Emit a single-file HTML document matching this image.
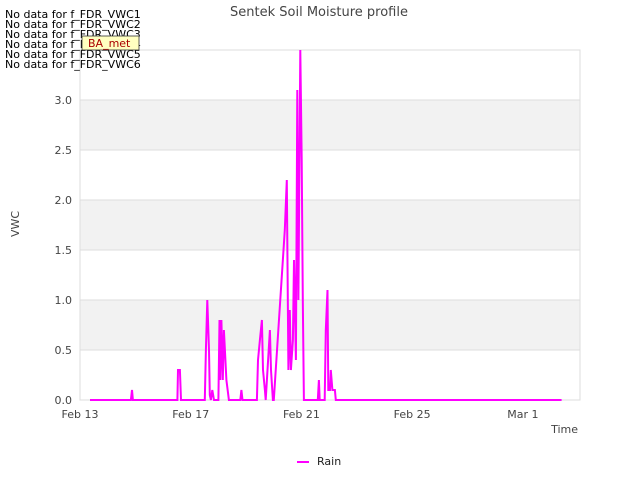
<!DOCTYPE html>
<html><head><meta charset="utf-8"><style>
body{margin:0;background:#fff;font-family:"Liberation Sans","DejaVu Sans",sans-serif}
svg text{font-family:"DejaVu Sans","Liberation Sans",sans-serif}
</style></head><body>
<svg id="c" width="640" height="480" xmlns="http://www.w3.org/2000/svg">
<text x="319" y="16" text-anchor="middle" font-size="13" fill="#444">Sentek Soil Moisture profile</text>
<g id="bands"></g>
<g id="grid"></g>
<rect x="80" y="50" width="500" height="350" fill="none" stroke="#ddd"/>
<g id="yt"></g><g id="xt"></g>
<text transform="translate(19,224) rotate(-90)" text-anchor="middle" font-size="11" fill="#444">VWC</text>
<text x="578" y="433" text-anchor="end" font-size="11" fill="#444">Time</text>
<path id="rain" fill="none" stroke="#ff00ff" stroke-width="2"/>
<g font-size="11" fill="#000">
<text x="5" y="18">No data for f_FDR_VWC1</text>
<text x="5" y="28">No data for f_FDR_VWC2</text>
<text x="5" y="38">No data for f_FDR_VWC3</text>
<text x="5" y="48">No data for f_FDR_VWC4</text>
<text x="5" y="58">No data for f_FDR_VWC5</text>
<text x="5" y="68">No data for f_FDR_VWC6</text>
</g>
<g>
<rect x="82" y="36" width="57" height="14" fill="#ffffc0" stroke="#333" stroke-width="0.8"/>
<text x="88" y="47" font-size="11" fill="#a00">BA_met</text>
</g>
<g>
<line x1="297" y1="462" x2="309" y2="462" stroke="#ff00ff" stroke-width="2"/>
<text x="317" y="465" font-size="11" fill="#222">Rain</text>
</g>
</svg>
<script>
const days=[0.36,1.84,1.88,1.91,3.52,3.54,3.61,3.65,4.51,4.55,4.60,4.66,4.69,4.73,4.78,4.84,5.0,5.04,5.07,5.11,5.16,5.2,5.29,5.38,5.79,5.83,5.87,6.39,6.43,6.5,6.57,6.61,6.68,6.71,6.86,6.90,6.97,7.0,7.40,7.47,7.53,7.58,7.62,7.69,7.73,7.80,7.85,7.89,7.96,8.01,8.05,8.09,8.14,8.59,8.63,8.66,8.84,8.88,8.94,8.97,9.03,9.06,9.12,9.15,9.21,9.24,9.28,17.4];
const rain=[0,0,0.1,0,0,0.3,0.3,0,0,0.5,1.0,0.5,0.05,0,0.1,0,0,0.8,0.2,0.8,0.2,0.7,0.2,0,0,0.1,0,0,0.4,0.6,0.8,0.3,0.1,0,0.7,0.3,0,0,1.7,2.2,0.3,0.9,0.3,0.6,1.4,0.4,3.1,1.0,3.5,2.4,1.0,0,0,0,0.2,0,0,0.7,1.1,0.1,0.1,0.3,0.1,0.1,0.1,0,0,0];
const yTicks=[0,0.5,1,1.5,2,2.5,3];
const xTickDays=[0,4,8,12,16];
const xTickLabels=["Feb 13","Feb 17","Feb 21","Feb 25","Mar 1"];
const X=d=>80+d*27.68, Y=v=>400-v*100;
const NS="http://www.w3.org/2000/svg";
function mk(t,a,p){const e=document.createElementNS(NS,t);for(const k in a)e.setAttribute(k,a[k]);p.appendChild(e);return e;}
const bands=document.getElementById('bands'),grid=document.getElementById('grid'),yt=document.getElementById('yt'),xt=document.getElementById('xt');
[[0.5,1],[1.5,2],[2.5,3]].forEach(b=>{const r=mk('rect',{x:80,y:Y(b[1]),width:500,height:Y(b[0])-Y(b[1]),fill:'#f2f2f2'},bands);

});
yTicks.forEach(v=>{const l=mk('line',{x1:80,x2:580,y1:Y(v),y2:Y(v),stroke:'#ddd'},grid);


const t=mk('text',{x:72,y:Y(v)+4,'text-anchor':'end','font-size':11,fill:'#444'},yt);t.textContent=v.toFixed(1);

});
xTickDays.forEach((d,i)=>{const t=mk('text',{x:X(d),y:418,'text-anchor':'middle','font-size':11,fill:'#444'},xt);t.textContent=xTickLabels[i];

});
document.getElementById('rain').setAttribute('d',days.map((d,i)=>(i?'L':'M')+X(d).toFixed(1)+','+Y(rain[i]).toFixed(1)).join(''));
</script>
</body></html>
